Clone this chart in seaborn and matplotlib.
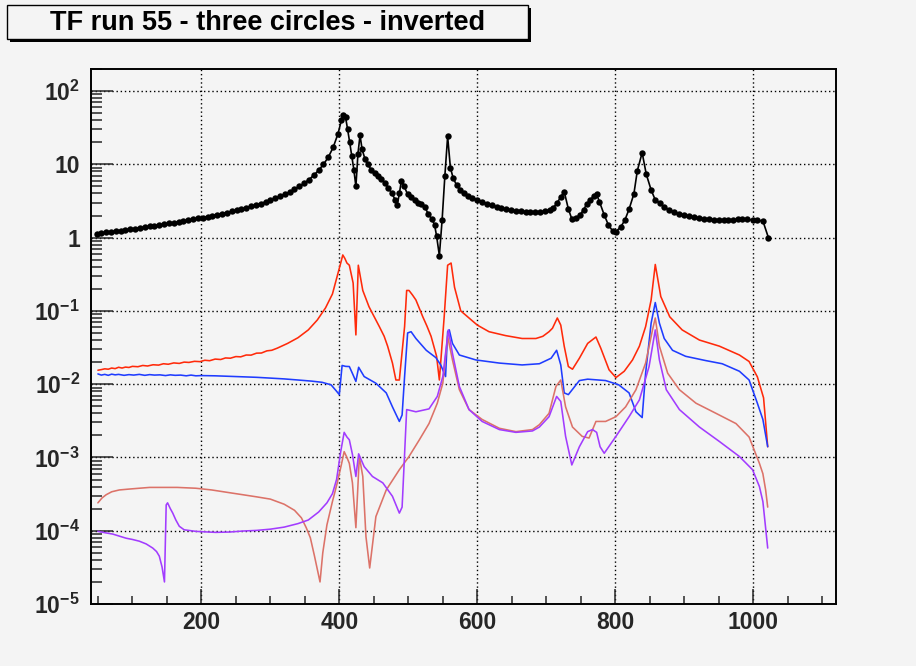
import matplotlib
matplotlib.use("Agg")
import matplotlib.pyplot as plt
import seaborn as sns
import pandas as pd
from matplotlib.ticker import FixedLocator, NullFormatter, LogLocator
from matplotlib.patches import Rectangle

# ---------------- data ----------------
black_x = [48, 55, 62, 69, 76, 83, 90, 97, 104, 111, 118, 125, 132, 139, 146, 153, 160, 167, 174, 181,
           188, 195, 202, 209, 216, 223, 230, 237, 244, 251, 258, 265, 272, 279, 286, 293, 300, 307, 314,
           321, 328, 335, 342, 349, 356, 363, 370, 377, 384, 391, 398, 403, 406, 409, 412, 415, 418, 421,
           424, 427, 430, 433, 437, 441, 446, 451, 456, 461, 466, 471, 476, 481, 484, 487, 490, 494, 499,
           504, 509, 514, 519, 524, 529, 534, 538, 541, 545, 549, 553, 557, 561, 565, 570, 575, 580, 586,
           592, 600, 607, 614, 621, 628, 635, 642, 649, 656, 663, 670, 677, 684, 691, 698, 705, 710, 716,
           721, 726, 732, 737, 743, 749, 754, 759, 764, 769, 773, 777, 784, 790, 796, 801, 808, 814, 820,
           827, 832, 839, 845, 852, 858, 865, 871, 878, 885, 893, 900, 907, 914, 921, 929, 936, 943, 950,
           957, 964, 971, 978, 984, 991, 999, 1006, 1014, 1022]
black_y = [1.12, 1.15, 1.18, 1.20, 1.23, 1.25, 1.28, 1.30, 1.33, 1.36, 1.39, 1.42, 1.45, 1.49, 1.52, 1.56,
           1.60, 1.64, 1.68, 1.73, 1.78, 1.83, 1.88, 1.94, 2.00, 2.06, 2.13, 2.20, 2.28, 2.36, 2.45, 2.55,
           2.66, 2.78, 2.92, 3.07, 3.24, 3.43, 3.65, 3.90, 4.2, 4.55, 5.0, 5.5, 6.2, 7.1, 8.3, 10.0, 12.5,
           17, 26, 40, 47, 44, 30, 20, 13, 8.5, 5.0, 14, 25, 16, 12, 10, 8.5, 7.5, 6.9, 6.3, 5.6, 4.8, 4.0,
           3.3, 2.8, 4.0, 6.0, 5.0, 3.9, 3.6, 3.3, 3.0, 2.85, 2.6, 2.1, 1.8, 1.5, 1.05, 0.57, 1.74, 7.0, 24,
           9.0, 6.5, 5.2, 4.5, 4.0, 3.7, 3.5, 3.3, 3.1, 2.9, 2.75, 2.6, 2.5, 2.42, 2.36, 2.32, 2.28, 2.26,
           2.24, 2.24, 2.24, 2.28, 2.4, 2.55, 3.0, 3.6, 4.25, 2.46, 1.8, 1.85, 2.04, 2.4, 2.9, 3.3, 3.7, 3.9,
           3.1, 2.04, 1.49, 1.24, 1.21, 1.40, 1.74, 2.44, 3.95, 8.2, 14.4, 7.3, 4.47, 3.27, 2.95, 2.6, 2.39,
           2.22, 2.10, 2.02, 1.95, 1.9, 1.85, 1.81, 1.78, 1.76, 1.75, 1.74, 1.74, 1.75, 1.77, 1.80, 1.78,
           1.74, 1.72, 1.69, 1.0]

red_x = [50, 55, 60, 65, 70, 75, 80, 85, 90, 95, 100, 108, 115, 122, 130, 138, 145, 152, 160, 168, 175,
         182, 190, 198, 205, 212, 220, 228, 235, 242, 250, 257, 265, 272, 280, 287, 295, 302, 310,
         325, 340, 355, 368, 380, 390, 397, 402, 405, 408, 411, 414.5, 420, 424, 427.5, 434, 443, 450, 458,
         465, 470, 477, 482, 487, 494.6, 497.6, 501, 506, 511, 521, 527, 533, 541, 545, 552, 557, 562, 567,
         576, 588, 600, 617, 641, 665, 685, 695, 704, 709, 716, 721, 726, 732, 738, 748, 760, 772, 779, 791,
         801, 813, 825, 835, 844, 852, 858, 866, 879, 897, 922, 951, 980, 994, 1006, 1015, 1021]
red_y = [0.0155, 0.0158, 0.0162, 0.0160, 0.0166, 0.0163, 0.0170, 0.0166, 0.0171, 0.0169, 0.0175, 0.0173,
         0.0180, 0.0177, 0.0184, 0.0182, 0.0190, 0.0187, 0.0195, 0.0192, 0.0200, 0.0198, 0.0205, 0.0203,
         0.0212, 0.0209, 0.0220, 0.0217, 0.0228, 0.0226, 0.0238, 0.0236, 0.0250, 0.0249, 0.0265, 0.0266,
         0.0285, 0.0290, 0.031,
         0.036, 0.043, 0.055, 0.075, 0.11,
         0.17, 0.30, 0.45, 0.58, 0.52, 0.45, 0.42, 0.24, 0.047, 0.42, 0.19, 0.114, 0.085, 0.061, 0.045,
         0.033, 0.0194, 0.0114, 0.0114, 0.061, 0.19, 0.19, 0.165, 0.141, 0.083, 0.062, 0.045, 0.024, 0.0114,
         0.083, 0.42, 0.45, 0.21, 0.10, 0.080, 0.064, 0.052, 0.046, 0.042, 0.042, 0.045, 0.052, 0.058,
         0.080, 0.064, 0.033, 0.0174, 0.016, 0.0226, 0.036, 0.044, 0.031, 0.0157, 0.0123, 0.015, 0.0214,
         0.033, 0.061, 0.141, 0.43, 0.157, 0.083, 0.055, 0.040, 0.033, 0.025, 0.0204, 0.0126, 0.0065, 0.0014]

blue_x = [50, 55, 60, 65, 70, 75, 80, 88, 95, 102, 110, 118, 125, 132, 140, 148, 155, 162, 170, 178, 185,
          192, 200, 220, 240, 260, 280, 300, 320, 340, 360,
          375, 388, 396, 400, 404, 409, 414.5, 419, 424, 428, 436, 453, 468, 477, 487, 491, 494.6, 499, 504,
          511, 526, 540, 547, 554, 557, 559.4, 564, 574, 598, 632, 665, 690, 707, 715, 721, 726, 732, 748,
          760, 786, 805, 820, 830, 839, 844, 852, 858, 864, 871, 883, 902, 931, 955, 980, 994, 1006, 1014,
          1021]
blue_y = [0.0138, 0.0133, 0.0136, 0.0132, 0.0137, 0.0134, 0.0136, 0.0132, 0.0135, 0.0133, 0.0136, 0.0132,
          0.0135, 0.0133, 0.0134, 0.0131, 0.0134, 0.0132, 0.0133, 0.0130, 0.0133, 0.0130, 0.0131,
          0.0130, 0.0128, 0.0126, 0.0124, 0.0121, 0.0118, 0.0114, 0.0110, 0.0106, 0.0098, 0.0080, 0.0072,
          0.018, 0.0175, 0.0174, 0.0140, 0.0109, 0.017, 0.0127, 0.0103, 0.0076, 0.0049, 0.0031, 0.0038,
          0.0127, 0.050, 0.052, 0.042, 0.029, 0.023, 0.0183, 0.0127, 0.052, 0.055, 0.036, 0.025, 0.0214,
          0.0194, 0.0183, 0.019, 0.0226, 0.029, 0.0183, 0.0076, 0.0072, 0.0112, 0.0117, 0.0112, 0.0098,
          0.0076, 0.0042, 0.0035, 0.0141, 0.068, 0.13, 0.068, 0.042, 0.029, 0.024, 0.021, 0.019, 0.015,
          0.0114, 0.0055, 0.0033, 0.0014]

salmon_x = [50, 56, 62, 70, 81, 95, 110, 125, 144, 165, 192, 215, 241, 260, 280, 300, 320, 335, 345, 352,
            358, 364, 368, 372, 376, 382, 390, 397, 403, 407, 411, 414.5, 419, 424, 429, 434, 438.6, 444,
            453, 468, 487, 501, 516, 530, 542, 550, 557, 564, 574, 588, 607, 632, 656, 680, 690, 704, 714,
            721, 728, 738, 752, 762, 772, 786, 801, 815, 830, 844, 854, 858, 864, 876, 893, 917, 946, 975,
            994, 1009, 1014, 1018, 1021]
salmon_y = [0.00024, 0.00028, 0.00031, 0.00034, 0.00036, 0.00037, 0.00038, 0.00039, 0.00039, 0.00039,
            0.00038, 0.00036, 0.00033, 0.00031, 0.00029, 0.00027, 0.00023, 0.00019, 0.00015, 0.00011,
            0.00008, 0.000045, 0.00003, 0.00002, 0.00005, 0.00012, 0.00025, 0.00045, 0.0008, 0.0012, 0.0010,
            0.00083, 0.00045, 0.00011, 0.00103, 0.00055, 0.000083, 0.000031, 0.000156, 0.00036, 0.00068,
            0.00103, 0.00174, 0.0029, 0.0055, 0.0103, 0.045, 0.0214, 0.0084, 0.0045, 0.0033, 0.0025, 0.00225,
            0.0024, 0.0028, 0.0040, 0.0093, 0.0114, 0.0049, 0.0026, 0.00194, 0.00184, 0.0031, 0.0031, 0.0036,
            0.0049, 0.0084, 0.0194, 0.055, 0.080, 0.033, 0.0141, 0.0084, 0.0055, 0.0040, 0.0029, 0.0019,
            0.00083, 0.0006, 0.00036, 0.00021]

purple_x = [50, 60, 71.5, 80, 91, 100, 110, 120, 129.5, 135, 139, 143, 146.5, 149, 151, 155, 158.5, 163,
            168, 175, 192, 210, 221, 241, 260, 280, 300, 320, 340, 355, 370, 382, 390, 396, 402, 407, 411,
            414.5, 419, 424, 428, 436, 448, 463, 477, 487, 491, 497.6, 511, 530, 542, 550, 558, 564, 574,
            588, 607, 632, 656, 680, 690, 704, 715, 721, 728, 737, 748, 760, 767, 773, 778, 784, 801, 820,
            835, 849, 858, 864, 874, 893, 922, 951, 980, 999, 1009, 1014, 1021]
purple_y = [0.000098, 0.000094, 0.000090, 0.000085, 0.000079, 0.000076, 0.000072, 0.000066, 0.000058,
            0.000052, 0.000045, 0.000032, 0.000020, 0.000225, 0.00024, 0.0002, 0.000174, 0.00014, 0.000115,
            0.000103, 0.000098, 0.000096, 0.000095, 0.000096, 0.000099, 0.000101, 0.000105, 0.000112,
            0.000125, 0.000140, 0.00018, 0.00024, 0.00032, 0.0005, 0.0012, 0.0022, 0.0019, 0.00174, 0.0011,
            0.00055, 0.00112, 0.00075, 0.00055, 0.00045, 0.000295, 0.000174, 0.00021, 0.0045, 0.0042,
            0.0046, 0.0068, 0.0127, 0.055, 0.0263, 0.0093, 0.0045, 0.0031, 0.0024, 0.0022, 0.0023, 0.0026,
            0.0036, 0.0068, 0.0058, 0.00194, 0.00079, 0.0014, 0.00225, 0.0024, 0.0022, 0.0014, 0.00114,
            0.00194, 0.0036, 0.0061, 0.0174, 0.055, 0.0214, 0.0084, 0.0045, 0.0026, 0.00165, 0.00103,
            0.00068, 0.0004, 0.00025, 0.000058]

title = "TF run 55 - three circles - inverted"
x_ticks = [200, 400, 600, 800, 1000]
y_ticks = [1e-5, 1e-4, 1e-3, 1e-2, 1e-1, 1, 10, 100]
y_tick_labels = [r"$10^{-5}$", r"$10^{-4}$", r"$10^{-3}$", r"$10^{-2}$", r"$10^{-1}$", "1", "10", r"$10^{2}$"]

# ---------------- style ----------------
sns.set_style("white")
plt.rcParams["font.family"] = ["Liberation Sans", "DejaVu Sans"]
plt.rcParams["font.weight"] = "bold"
plt.rcParams["mathtext.fontset"] = "custom"
plt.rcParams["mathtext.rm"] = "Liberation Sans:bold"
plt.rcParams["mathtext.it"] = "Liberation Sans:bold"
plt.rcParams["mathtext.bf"] = "Liberation Sans:bold"
plt.rcParams["mathtext.default"] = "rm"

BG = "#f4f4f4"
W, H = 916, 666
fig = plt.figure(figsize=(W / 100, H / 100), dpi=100, facecolor=BG)
ax = fig.add_axes([91 / W, 1 - 604 / H, (836 - 91) / W, (604 - 69) / H])
ax.set_facecolor(BG)
ax.set_yscale("log")

series = [
    (black_x, black_y, "black", True),
    (red_x, red_y, "#ff2a0a", False),
    (blue_x, blue_y, "#1f3cff", False),
    (salmon_x, salmon_y, "#dc7268", False),
    (purple_x, purple_y, "#a23cff", False),
]
for xs, ys, col, mark in series:
    df = pd.DataFrame({"x": xs, "y": ys})
    if mark:
        sns.lineplot(data=df, x="x", y="y", color=col, linewidth=1.2, marker="o", markersize=4.6,
                     markeredgewidth=0, estimator=None, sort=False, ax=ax, zorder=5)
    else:
        sns.lineplot(data=df, x="x", y="y", color=col, linewidth=1.15, estimator=None, sort=False,
                     ax=ax, zorder=4)

ax.set_xlim(40, 1120)
ax.set_ylim(1e-5, 200)
ax.set_xlabel("")
ax.set_ylabel("")

ax.xaxis.set_major_locator(FixedLocator(x_ticks))
ax.xaxis.set_minor_locator(FixedLocator([v for v in range(50, 1120, 50) if v not in x_ticks]))
ax.set_yticks(y_ticks)
ax.set_yticklabels(y_tick_labels)
ax.yaxis.set_minor_locator(LogLocator(base=10, subs=range(2, 10), numticks=20))
ax.yaxis.set_minor_formatter(NullFormatter())

for lab in ax.get_xticklabels() + ax.get_yticklabels():
    lab.set_fontweight("bold")
    lab.set_fontsize(16.5)

ax.tick_params(axis="y", which="major", direction="in", length=16, width=1.1, pad=8, left=True, right=False)
ax.tick_params(axis="y", which="minor", direction="in", length=8, width=1.1, left=True, right=False)
ax.tick_params(axis="x", which="major", direction="in", length=11, width=1.1, pad=5, bottom=True, top=False)
ax.tick_params(axis="x", which="minor", direction="in", length=5.5, width=1.1, bottom=True, top=False)

ax.grid(True, which="major", color="black", linestyle=(0, (1, 2)), linewidth=1.0)
ax.set_axisbelow(True)
for s in ax.spines.values():
    s.set_visible(True)
    s.set_color("black")
    s.set_linewidth(1.4)

# title box with shadow
x0, y0, x1, y1 = 7, 5, 528, 39
fig.patches.append(Rectangle(((x0 + 3) / W, 1 - (y1 + 3) / H), (x1 - x0) / W, (y1 - y0) / H,
                             transform=fig.transFigure, facecolor="black", edgecolor="none", zorder=1))
fig.patches.append(Rectangle((x0 / W, 1 - y1 / H), (x1 - x0) / W, (y1 - y0) / H,
                             transform=fig.transFigure, facecolor=BG, edgecolor="black", linewidth=1.0, zorder=2))
fig.text((x0 + x1) / 2 / W, 1 - 22.5 / H, title, ha="center", va="center", fontsize=19.5,
         fontweight="bold", color="black", zorder=3)

fig.savefig("out.png", dpi=100, facecolor=BG)
